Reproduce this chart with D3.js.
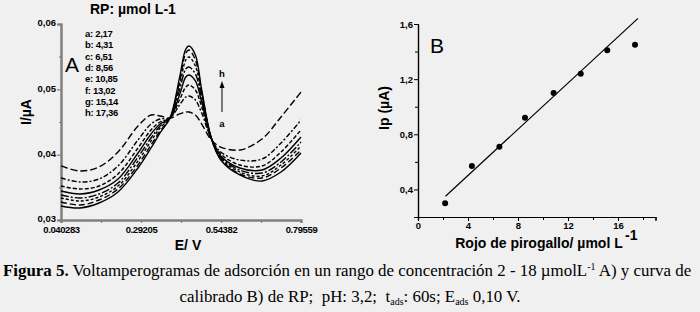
<!DOCTYPE html>
<html>
<head>
<meta charset="utf-8">
<script src="https://cdn.jsdelivr.net/npm/d3@7"></script>
<style>
body{margin:0;background:#f0f0f0;}
svg{display:block;}
.tk{font-family:"Liberation Sans",Arial,sans-serif;font-weight:bold;font-size:9.5px;}
.lab{font-family:"Liberation Sans",Arial,sans-serif;font-weight:bold;font-size:14px;}
.cap{font-family:"Liberation Serif","Times New Roman",serif;font-size:16.9px;}
</style>
</head>
<body>
<svg id="plot" width="700" height="312"></svg>
<script>
//voltammograms, panel A
var potential = [0.0403,0.1001,0.1599,0.2197,0.2826,0.3235,0.3519,0.3833,0.4132,0.4330,0.4431,0.4632,0.4831,0.5133,0.5432,0.6030,0.6729,0.7326,0.7956];
var curveA = [0.03827,0.0375,0.03811,0.04041,0.04439,0.04607,0.04592,0.04561,0.04623,0.04653,0.04653,0.04607,0.04469,0.04225,0.04117,0.04071,0.0424,0.04577,0.04959];
var curveB = [0.03643,0.03582,0.03628,0.03827,0.04225,0.04469,0.04546,0.04561,0.0476,0.04883,0.04898,0.04837,0.04638,0.0424,0.04041,0.03918,0.03934,0.04179,0.04531];
var curveC = [0.0352,0.03475,0.0352,0.03704,0.04102,0.04378,0.045,0.04561,0.04837,0.05036,0.05066,0.0499,0.0473,0.0424,0.0401,0.03842,0.03827,0.04041,0.04378];
var curveD = [0.03444,0.03398,0.03459,0.03628,0.04026,0.04316,0.04469,0.04561,0.04913,0.05189,0.05219,0.05128,0.04806,0.04255,0.0398,0.03796,0.03765,0.03949,0.0427];
var curveE = [0.03383,0.03337,0.03398,0.03566,0.03964,0.04255,0.04439,0.04561,0.0499,0.05311,0.05342,0.05235,0.04867,0.04255,0.03964,0.03765,0.03719,0.03888,0.04194];
var curveF = [0.03337,0.03291,0.03352,0.0352,0.03903,0.04209,0.04408,0.04561,0.05051,0.05449,0.05495,0.05357,0.04913,0.04255,0.03949,0.03735,0.03673,0.03842,0.04133];
var curveG = [0.03276,0.0323,0.03306,0.03475,0.03842,0.04148,0.04362,0.04561,0.05112,0.05556,0.05602,0.05449,0.04959,0.04255,0.03934,0.03704,0.03643,0.03796,0.04071];
var curveH = [0.03214,0.03184,0.0326,0.03429,0.03796,0.04102,0.04332,0.04561,0.05174,0.05617,0.05663,0.05526,0.0499,0.04255,0.03918,0.03689,0.03597,0.03735,0.04026];
var curveNames = ["a","b","c","d","e","f","g","h"];
var concLabels = ["2,17","4,31","6,51","8,56","10,85","13,02","15,14","17,36"];
var dashes = ["7,3","5,2,2,2","4,2","none","8,2,2,2","3,2","6,3","none"];
var eTicks = [0.040283,0.29205,0.54382,0.79559];
var eTickLabels = ["0.040283","0.29205","0.54382","0.79559"];
var iTicks = [0.03,0.04,0.05,0.06];

//calibration, panel B
var conc = [2.17,4.31,6.51,8.56,10.85,13.02,15.14,17.36];
var peakI = [0.30,0.57,0.71,0.92,1.10,1.24,1.41,1.45];
var fitSlope = 0.0838, fitIntercept = 0.166, fitRange = [2.2,17.6];
var cTicks = [0,4,8,12,16];
var pTicks = [0.4,0.8,1.2,1.6];

var svg = d3.select("#plot");

function drawA(){
	var x = d3.scaleLinear().domain([0.040283,0.79559]).range([61,301]);
	var y = d3.scaleLinear().domain([0.03,0.06]).range([220,24]);
	var g = svg.append("g");
	var axisCol = "#808080";

	var ya = g.append("g").attr("transform","translate(61,0)")
		.call(d3.axisLeft(y).tickValues(iTicks).tickSize(4).tickFormat(function(d){return d3.format(".2f")(d).replace(".",",");}));
	g.append("g").attr("transform","translate(61,0)")
		.call(d3.axisLeft(y).tickValues([0.035,0.045,0.055]).tickSize(2).tickFormat(""));
	var xa = g.append("g").attr("transform","translate(0,220)")
		.call(d3.axisBottom(x).tickValues(eTicks).tickSize(3).tickFormat(function(d,i){return eTickLabels[i];}));
	g.append("g").attr("transform","translate(0,220)")
		.call(d3.axisBottom(x).tickValues([0.166167,0.417936,0.669706]).tickSize(3).tickFormat(""));
	g.selectAll(".domain").attr("stroke",axisCol).attr("stroke-width",2);
	g.selectAll(".tick line").attr("stroke",axisCol).attr("stroke-width",1.2);
	g.selectAll(".tick text").attr("class","tk").attr("fill","#000");
	ya.selectAll(".tick text").attr("x",-5).attr("dy","0.2em");
	xa.selectAll(".tick text").attr("y",6).attr("letter-spacing","-0.4");

	var all = [curveA,curveB,curveC,curveD,curveE,curveF,curveG,curveH];
	var line = d3.line().x(function(d,i){return x(potential[i]);}).y(function(d){return y(d);})
		.curve(d3.curveCatmullRom.alpha(0.5));
	g.selectAll(".volt").data(all).enter().append("path")
		.attr("class","volt")
		.attr("d",line)
		.attr("fill","none")
		.attr("stroke","#000")
		.attr("stroke-width",1.4)
		.attr("stroke-dasharray",function(d,i){return dashes[i];});

	g.append("text").attr("class","lab").attr("font-size",12).attr("x",90).attr("y",14).text("RP: µmol L-1");
	g.selectAll(".leg").data(concLabels).enter().append("text")
		.attr("class","tk").attr("font-size",11.5).attr("letter-spacing","-0.3")
		.attr("x",85).attr("y",function(d,i){return 37+i*11.3;})
		.text(function(d,i){return curveNames[i]+": "+d;});
	g.append("text").attr("x",65).attr("y",72).attr("font-family","Liberation Sans, Arial, sans-serif").attr("font-size",21).text("A");

	g.append("text").attr("class","tk").attr("font-size",12).attr("x",222).attr("y",77).attr("text-anchor","middle").text("h");
	g.append("line").attr("x1",222).attr("x2",222).attr("y1",112).attr("y2",84).attr("stroke","#000").attr("stroke-width",1);
	g.append("path").attr("d","M219.5,88L222,81L224.5,88Z").attr("fill","#000");
	g.append("text").attr("class","tk").attr("font-size",12).attr("x",222).attr("y",127).attr("text-anchor","middle").text("a");

	g.append("text").attr("class","lab").attr("font-size",15).attr("text-anchor","middle")
		.attr("transform","translate(31,112) rotate(-90)").text("I/µA");
	g.append("text").attr("class","lab").attr("font-size",15).attr("text-anchor","middle").attr("x",188).attr("y",250).text("E/ V");
}

function drawB(){
	var x = d3.scaleLinear().domain([0,19]).range([418,655.5]);
	var y = d3.scaleLinear().domain([0.2,1.6]).range([217,24]);
	var g = svg.append("g");

	var ya = g.append("g").attr("transform","translate(418,0)")
		.call(d3.axisLeft(y).tickValues(pTicks).tickSize(4).tickFormat(function(d){return d3.format(".1f")(d).replace(".",",");}));
	g.append("g").attr("transform","translate(418,0)")
		.call(d3.axisLeft(y).tickValues([0.6,1.0,1.4]).tickSize(3).tickFormat(""));
	var xa = g.append("g").attr("transform","translate(0,217)")
		.call(d3.axisBottom(x).tickValues(cTicks).tickSize(4).tickFormat(d3.format("d")));
	g.append("g").attr("transform","translate(0,217)")
		.call(d3.axisBottom(x).tickValues([2,6,10,14,18]).tickSize(3).tickFormat(""));
	g.selectAll(".domain").attr("stroke","#000").attr("stroke-width",1.2);
	g.selectAll(".tick line").attr("stroke","#000");
	g.selectAll(".tick text").attr("class","tk").attr("fill","#000");
	ya.selectAll(".tick text").attr("x",-5);
	xa.selectAll(".tick text").attr("y",5);

	g.append("line")
		.attr("x1",x(fitRange[0])).attr("y1",y(fitIntercept+fitSlope*fitRange[0]))
		.attr("x2",x(fitRange[1])).attr("y2",y(fitIntercept+fitSlope*fitRange[1]))
		.attr("stroke","#000").attr("stroke-width",1.2);
	g.selectAll(".pt").data(conc).enter().append("circle")
		.attr("class","pt")
		.attr("cx",function(d){return x(d);})
		.attr("cy",function(d,i){return y(peakI[i]);})
		.attr("r",3)
		.attr("fill","#000");

	g.append("text").attr("x",430).attr("y",53).attr("font-family","Liberation Sans, Arial, sans-serif").attr("font-size",21).text("B");
	g.append("text").attr("class","lab").attr("font-size",15).attr("text-anchor","middle")
		.attr("transform","translate(389,108) rotate(-90)").text("Ip (µA)");
	g.append("text").attr("class","lab").attr("font-size",14.5).attr("text-anchor","middle").attr("x",539).attr("y",248).text("Rojo de pirogallo/ µmol L");
	g.append("text").attr("class","lab").attr("font-weight","normal").attr("font-size",14).attr("x",625).attr("y",240).text("-1");
}

function drawCaption(){
	var t1 = svg.append("text").attr("class","cap").attr("x",3).attr("y",276);
	t1.append("tspan").attr("font-weight","bold").text("Figura 5.");
	t1.append("tspan").text(" Voltamperogramas de adsorción en un rango de concentración 2 - 18 µmolL");
	t1.append("tspan").attr("font-size",10).attr("dy",-6).text("-1");
	t1.append("tspan").attr("dy",6).text(" A) y curva de");

	var t2 = svg.append("text").attr("class","cap").attr("x",350).attr("y",302).attr("text-anchor","middle").attr("xml:space","preserve");
	t2.append("tspan").text("calibrado B) de RP;  pH: 3,2;  t");
	t2.append("tspan").attr("font-size",10).attr("dy",3).text("ads");
	t2.append("tspan").attr("dy",-3).text(": 60s; E");
	t2.append("tspan").attr("font-size",10).attr("dy",3).text("ads");
	t2.append("tspan").attr("dy",-3).text(" 0,10 V.");
}

drawA();
drawB();
drawCaption();
</script>
</body>
</html>
